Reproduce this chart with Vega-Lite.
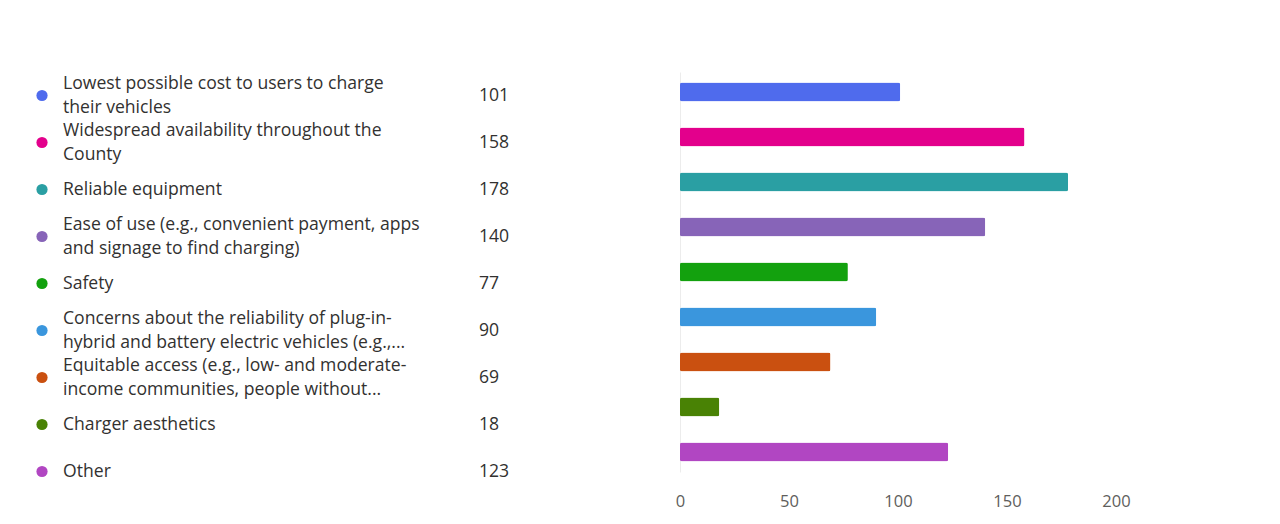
{
  "$schema": "https://vega.github.io/schema/vega-lite/v6.json",
  "background": "white",
  "padding": {"left": 36, "top": 72, "right": 0, "bottom": 20},
  "bounds": "flush",
  "config": {
    "view": {"stroke": null},
    "font": "Open Sans",
    "concat": {"spacing": 0}
  },
  "data": {
    "values": [
      {"category": "Lowest possible cost to users to charge their vehicles", "label": "Lowest possible cost to users to charge\ntheir vehicles", "count": 101},
      {"category": "Widespread availability throughout the County", "label": "Widespread availability throughout the\nCounty", "count": 158},
      {"category": "Reliable equipment", "label": "Reliable equipment", "count": 178},
      {"category": "Ease of use (e.g., convenient payment, apps and signage to find charging)", "label": "Ease of use (e.g., convenient payment, apps\nand signage to find charging)", "count": 140},
      {"category": "Safety", "label": "Safety", "count": 77},
      {"category": "Concerns about the reliability of plug-in-hybrid and battery electric vehicles", "label": "Concerns about the reliability of plug-in-\nhybrid and battery electric vehicles (e.g.,...", "count": 90},
      {"category": "Equitable access (e.g., low- and moderate-income communities, people without", "label": "Equitable access (e.g., low- and moderate-\nincome communities, people without...", "count": 69},
      {"category": "Charger aesthetics", "label": "Charger aesthetics", "count": 18},
      {"category": "Other", "label": "Other", "count": 123}
    ]
  },
  "hconcat": [
    {
      "width": 437,
      "height": 423,
      "layer": [
        {
          "mark": {"type": "point", "filled": true, "size": 125, "opacity": 1},
          "encoding": {
            "y": {"field": "category", "type": "nominal", "sort": null, "axis": null},
            "x": {"datum": 0, "type": "quantitative", "scale": {"domain": [0, 1]}, "axis": null},
            "color": {"field": "category", "type": "nominal", "sort": null, "legend": null,
              "scale": {"range": ["#4F6BED", "#E3008C", "#2A9FA3", "#8764B8", "#13A10E", "#3A96DD", "#CA5010", "#498205", "#B146C2"]}}
          }
        },
        {
          "transform": [{"filter": "indexof(datum.label, '\\n') < 0"}],
          "mark": {"type": "text", "align": "left", "baseline": "middle", "dx": 21, "fontSize": 17.6, "color": "#323130"},
          "encoding": {
            "y": {"field": "category", "type": "nominal", "sort": null, "axis": null},
            "x": {"datum": 0, "type": "quantitative", "scale": {"domain": [0, 1]}, "axis": null},
            "text": {"field": "label"}
          }
        },
        {
          "transform": [{"filter": "indexof(datum.label, '\\n') >= 0"}],
          "mark": {"type": "text", "align": "left", "baseline": "middle", "dx": 21, "dy": -12, "lineBreak": "\n", "lineHeight": 24, "fontSize": 17.6, "color": "#323130"},
          "encoding": {
            "y": {"field": "category", "type": "nominal", "sort": null, "axis": null},
            "x": {"datum": 0, "type": "quantitative", "scale": {"domain": [0, 1]}, "axis": null},
            "text": {"field": "label"}
          }
        }
      ]
    },
    {
      "width": 201,
      "height": 423,
      "mark": {"type": "text", "align": "left", "baseline": "middle", "fontSize": 17.6, "color": "#323130"},
      "encoding": {
        "y": {"field": "category", "type": "nominal", "sort": null, "axis": null},
        "x": {"datum": 0, "type": "quantitative", "scale": {"domain": [0, 1]}, "axis": null},
        "text": {"field": "count"}
      }
    },
    {
      "width": 436,
      "height": 400,
      "mark": {"type": "bar", "cornerRadius": 2},
      "encoding": {
        "y": {"field": "category", "type": "nominal", "sort": null,
          "scale": {"paddingInner": 0.5778, "paddingOuter": 0.2333},
          "axis": {"title": null, "labels": false, "ticks": false, "grid": false, "domain": true, "domainColor": "#ececec", "domainWidth": 1}},
        "x": {"field": "count", "type": "quantitative", "scale": {"domain": [0, 200]},
          "axis": {"title": null, "values": [0, 50, 100, 150, 200], "domain": false, "ticks": false, "grid": false,
            "labelFlush": false, "labelFontSize": 16.5, "labelColor": "#605E5C", "labelPadding": 21}},
        "color": {"field": "category", "type": "nominal", "sort": null, "legend": null,
          "scale": {"range": ["#4F6BED", "#E3008C", "#2A9FA3", "#8764B8", "#13A10E", "#3A96DD", "#CA5010", "#498205", "#B146C2"]}}
      }
    }
  ]
}
